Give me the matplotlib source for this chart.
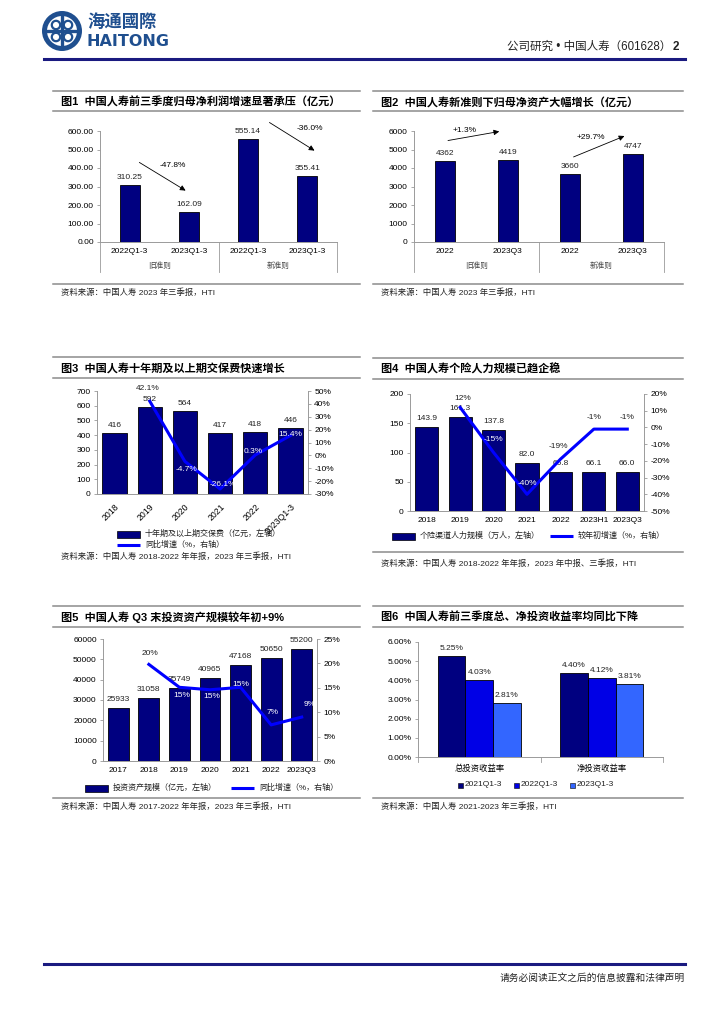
import matplotlib
matplotlib.use("Agg")
import matplotlib.pyplot as plt
import numpy as np
from matplotlib.patches import Rectangle, Circle
from matplotlib.ticker import FuncFormatter

plt.rcParams['font.family'] = ['Liberation Sans', 'Noto Sans CJK SC', 'DejaVu Sans']
plt.rcParams['axes.unicode_minus'] = False

W, H = 724, 1024
NAVY = '#000080'
BLUE = '#0000ff'
LINE_GRAY = '#8c8c8c'
SPINE = '#9a9a9a'
LOGO = '#1f4f8f'

# ---- data ----
f1_cats = ['2022Q1-3', '2023Q1-3', '2022Q1-3', '2023Q1-3']
f1_groups = ['旧准则', '新准则']
f1_vals = [310.25, 162.09, 555.14, 355.41]
f1_chg = ['-47.8%', '-36.0%']

f2_cats = ['2022', '2023Q3', '2022', '2023Q3']
f2_groups = ['旧准则', '新准则']
f2_vals = [4362, 4419, 3660, 4747]
f2_chg = ['+1.3%', '+29.7%']

f3_cats = ['2018', '2019', '2020', '2021', '2022', '2023Q1-3']
f3_prem = [416, 592, 564, 417, 418, 446]
f3_yoy = [np.nan, 42.1, -4.7, -26.1, 0.3, 15.4]

f4_cats = ['2018', '2019', '2020', '2021', '2022', '2023H1', '2023Q3']
f4_agents = [143.9, 161.3, 137.8, 82.0, 66.8, 66.1, 66.0]
f4_chg = [np.nan, 12, -15, -40, -19, -1, -1]

f5_cats = ['2017', '2018', '2019', '2020', '2021', '2022', '2023Q3']
f5_assets = [25933, 31058, 35749, 40965, 47168, 50650, 55200]
f5_yoy = [np.nan, 19.8, 15.1, 14.6, 15.1, 7.4, 9.0]

f6_groups = ['总投资收益率', '净投资收益率']
f6_series = ['2021Q1-3', '2022Q1-3', '2023Q1-3']
f6_2021 = [5.25, 4.40]
f6_2022 = [4.03, 4.12]
f6_2023 = [2.81, 3.81]
f6_colors = ['#000080', '#0000e6', '#3366ff']

fig = plt.figure(figsize=(7.24, 10.24), dpi=100)
bg = fig.add_axes([0, 0, 1, 1])
bg.set_xlim(0, W)
bg.set_ylim(H, 0)
bg.axis('off')


def px_rect(x0, y0, x1, y1):
    return [x0 / W, 1 - y1 / H, (x1 - x0) / W, (y1 - y0) / H]


def panel(x0, x1, top, title_y, under, bottom, source_y, title, source):
    bg.plot([x0, x1], [top, top], color=LINE_GRAY, lw=1.1)
    bg.plot([x0, x1], [under, under], color=LINE_GRAY, lw=1.1)
    if bottom is not None:
        bg.plot([x0, x1], [bottom, bottom], color=LINE_GRAY, lw=1.1)
    bg.text(x0 + 8, title_y, title, fontsize=8, fontweight='bold', va='center', ha='left')
    bg.text(x0 + 8, source_y, source, fontsize=6, va='center', ha='left', color='#222222')


def style(ax):
    for s in ['top', 'right']:
        ax.spines[s].set_visible(False)
    ax.spines['left'].set_color(SPINE)
    ax.spines['bottom'].set_color(SPINE)
    ax.spines['left'].set_linewidth(0.7)
    ax.spines['bottom'].set_linewidth(0.7)
    ax.tick_params(axis='y', labelsize=6, length=2.5, width=0.6, color=SPINE, pad=2)
    ax.tick_params(axis='x', labelsize=6, length=0, pad=4)
    ax.patch.set_alpha(0)


def style_right(ax2):
    for s in ['top', 'left', 'bottom']:
        ax2.spines[s].set_visible(False)
    ax2.spines['right'].set_color(SPINE)
    ax2.spines['right'].set_linewidth(0.7)
    ax2.tick_params(axis='y', labelsize=6, length=2.5, width=0.6, color=SPINE, pad=2)


def bar_labels(ax, xs, vals, fmt, dy=4):
    for x, v in zip(xs, vals):
        ax.annotate(fmt.format(v), (x, v), xytext=(0, dy), textcoords='offset pixels',
                    ha='center', va='bottom', fontsize=6, color='#222222')


def line_labels(ax, xs, vals, fmt, offsets, colors):
    for x, v, off, c in zip(xs, vals, offsets, colors):
        if np.isnan(v):
            continue
        ax.annotate(fmt.format(v), (x, v), xytext=off, textcoords='offset pixels',
                    ha='center', va='center', fontsize=6, color=c)


def legend_bar(x, y, text):
    bg.add_patch(Rectangle((x, y - 3.5), 23, 7, fc=NAVY, ec='black', lw=0.5))
    bg.text(x + 28, y, text, fontsize=5.8, va='center', ha='left', color='#222222')


def legend_line(x, y, text):
    bg.plot([x, x + 23], [y, y], color=BLUE, lw=2.2, solid_capstyle='butt')
    bg.text(x + 28, y, text, fontsize=5.8, va='center', ha='left', color='#222222')


# ---- header / footer ----
bg.add_patch(Circle((62, 31), 20, fc=LOGO, ec='none'))
bg.add_patch(Circle((62, 31), 15, fc='white', ec='none'))
bg.plot([62, 62], [17, 45], color=LOGO, lw=2.4)
bg.plot([48, 76], [31, 31], color=LOGO, lw=2.4)
for dx, dy in [(-6, -6), (6, -6), (-6, 6), (6, 6)]:
    bg.add_patch(Circle((62 + dx, 31 + dy), 4.2, fc='none', ec=LOGO, lw=1.6))
bg.text(87, 22, '海通國際', fontsize=12.5, fontweight='bold', color=LOGO, va='center', ha='left')
bg.text(86, 41, 'HAITONG', fontsize=11.5, fontweight='bold', color=LOGO, va='center', ha='left',
        family='DejaVu Sans')
bg.text(671, 47, '公司研究 • 中国人寿（601628）', fontsize=8.3, va='center', ha='right', color='#222222')
bg.text(673, 47, '2', fontsize=8.5, fontweight='bold', va='center', ha='left', color='#222222')
bg.plot([44, 685], [59, 59], color='#1a1a80', lw=2.2)
bg.plot([44, 685], [964, 964], color='#1a1a80', lw=2.2)
bg.text(685, 978, '请务必阅读正文之后的信息披露和法律声明', fontsize=7, va='center', ha='right', color='#222222')

# ---- panel frames ----
panel(53, 360, 91, 102, 111, 284, 293, '图1  中国人寿前三季度归母净利润增速显著承压（亿元）',
      '资料来源：中国人寿 2023 年三季报，HTI')
panel(373, 683, 91, 102, 111, 284, 293, '图2  中国人寿新准则下归母净资产大幅增长（亿元）',
      '资料来源：中国人寿 2023 年三季报，HTI')
panel(53, 360, 357, 368, 378, None, 557, '图3  中国人寿十年期及以上期交保费快速增长',
      '资料来源：中国人寿 2018-2022 年年报，2023 年三季报，HTI')
panel(373, 683, 358, 369, 379, 552, 564, '图4  中国人寿个险人力规模已趋企稳',
      '资料来源：中国人寿 2018-2022 年年报，2023 年中报、三季报，HTI')
panel(53, 360, 606, 617, 627, 798, 807, '图5  中国人寿 Q3 末投资资产规模较年初+9%',
      '资料来源：中国人寿 2017-2022 年年报，2023 年三季报，HTI')
panel(373, 683, 606, 617, 627, 798, 807, '图6  中国人寿前三季度总、净投资收益率均同比下降',
      '资料来源：中国人寿 2021-2023 年三季报，HTI')

arrow_kw = dict(arrowstyle='-|>', color='black', lw=0.6, mutation_scale=8)

# ---- Figure 1 ----
ax = fig.add_axes(px_rect(100, 131, 337, 242))
style(ax)
x = np.arange(len(f1_vals))
ax.bar(x, f1_vals, width=0.34, color=NAVY, edgecolor='black', linewidth=0.6)
ax.set_xlim(-0.5, 3.5)
ax.set_ylim(0, 600)
ax.set_yticks(np.arange(0, 601, 100))
ax.yaxis.set_major_formatter(FuncFormatter(lambda v, p: f'{v:.2f}'))
ax.set_xticks(x)
ax.set_xticklabels(f1_cats)
bar_labels(ax, x, f1_vals, '{:.2f}')
for sx in [-0.5, 1.5, 3.5]:
    ax.plot([sx, sx], [0, -0.27], transform=ax.get_xaxis_transform(), color=SPINE, lw=0.6, clip_on=False)
for i, g in enumerate(f1_groups):
    ax.text(2 * i + 0.5, -0.215, g, transform=ax.get_xaxis_transform(), ha='center', va='center',
            fontsize=5.5, color='#444444')
ax.annotate('', xy=(0.985, 270), xytext=(0.124, 438), arrowprops=arrow_kw, annotation_clip=False)
ax.annotate('', xy=(3.16, 486), xytext=(2.32, 654), arrowprops=arrow_kw, annotation_clip=False)
ax.text(0.73, 411, f1_chg[0], ha='center', va='center', fontsize=6)
ax.text(3.04, 611, f1_chg[1], ha='center', va='center', fontsize=6)

# ---- Figure 2 ----
ax = fig.add_axes(px_rect(414, 131, 664, 242))
style(ax)
x = np.arange(len(f2_vals))
ax.bar(x, f2_vals, width=0.32, color=NAVY, edgecolor='black', linewidth=0.6)
ax.set_xlim(-0.5, 3.5)
ax.set_ylim(0, 6000)
ax.set_yticks(np.arange(0, 6001, 1000))
ax.set_xticks(x)
ax.set_xticklabels(f2_cats)
bar_labels(ax, x, f2_vals, '{:d}')
for sx in [-0.5, 1.5, 3.5]:
    ax.plot([sx, sx], [0, -0.27], transform=ax.get_xaxis_transform(), color=SPINE, lw=0.6, clip_on=False)
for i, g in enumerate(f2_groups):
    ax.text(2 * i + 0.5, -0.215, g, transform=ax.get_xaxis_transform(), ha='center', va='center',
            fontsize=5.5, color='#444444')
ax.annotate('', xy=(0.908, 6000), xytext=(0.0, 5459), arrowprops=arrow_kw, annotation_clip=False)
ax.annotate('', xy=(2.908, 5784), xytext=(2.012, 4541), arrowprops=arrow_kw, annotation_clip=False)
ax.text(0.316, 6054, f2_chg[0], ha='center', va='center', fontsize=6)
ax.text(2.332, 5622, f2_chg[1], ha='center', va='center', fontsize=6)

# ---- Figure 3 ----
ax = fig.add_axes(px_rect(97, 391, 308, 494))
style(ax)
x = np.arange(len(f3_prem))
ax.bar(x, f3_prem, width=0.69, color=NAVY, edgecolor='black', linewidth=0.6)
ax.set_xlim(-0.5, len(x) - 0.5)
ax.set_ylim(0, 700)
ax.set_yticks(np.arange(0, 701, 100))
ax.set_xticks(x)
ax.set_xticklabels(f3_cats, rotation=45, ha='right', rotation_mode='anchor')
ax.tick_params(axis='x', pad=6, labelsize=6.3)
bar_labels(ax, x, f3_prem, '{:d}')
ax2 = ax.twinx()
style_right(ax2)
ax2.plot(x, f3_yoy, color=BLUE, lw=2.2)
ax2.set_ylim(-30, 50)
ax2.set_yticks(np.arange(-30, 51, 10))
ax2.yaxis.set_major_formatter(FuncFormatter(lambda v, p: f'{v:.0f}%'))
line_labels(ax2, x, f3_yoy, '{:.1f}%',
            [(0, 0), (-2, 13), (2, -8), (3, 4), (-2, 3), (0, 1)],
            ['k', '#222222', 'white', 'white', 'white', 'white'])
legend_bar(117, 534, '十年期及以上期交保费（亿元，左轴）')
legend_line(117, 545, '同比增速（%，右轴）')

# ---- Figure 4 ----
ax = fig.add_axes(px_rect(410, 394, 644, 511))
style(ax)
x = np.arange(len(f4_agents))
ax.bar(x, f4_agents, width=0.69, color=NAVY, edgecolor='black', linewidth=0.6)
ax.set_xlim(-0.5, len(x) - 0.5)
ax.set_ylim(0, 200)
ax.set_yticks(np.arange(0, 201, 50))
ax.set_xticks(x)
ax.set_xticklabels(f4_cats)
bar_labels(ax, x, f4_agents, '{:.1f}', dy=5)
ax2 = ax.twinx()
style_right(ax2)
ax2.plot(x, f4_chg, color=BLUE, lw=2.2)
ax2.set_ylim(-50, 20)
ax2.set_yticks(np.arange(-50, 21, 10))
ax2.yaxis.set_major_formatter(FuncFormatter(lambda v, p: f'{v:.0f}%'))
line_labels(ax2, x, f4_chg, '{:.0f}%',
            [(0, 0), (3, 9), (0, 13), (0, 11), (-2, 13), (0, 12), (0, 12)],
            ['k', '#222222', 'white', 'white', '#222222', '#222222', '#222222'])
legend_bar(392, 536, '个险渠道人力规模（万人，左轴）')
legend_line(550, 536, '较年初增速（%，右轴）')

# ---- Figure 5 ----
ax = fig.add_axes(px_rect(103, 639, 317, 761))
style(ax)
x = np.arange(len(f5_assets))
ax.bar(x, f5_assets, width=0.68, color=NAVY, edgecolor='black', linewidth=0.6)
ax.set_xlim(-0.5, len(x) - 0.5)
ax.set_ylim(0, 60000)
ax.set_yticks(np.arange(0, 60001, 10000))
ax.set_xticks(x)
ax.set_xticklabels(f5_cats)
bar_labels(ax, x, f5_assets, '{:d}', dy=5)
ax2 = ax.twinx()
style_right(ax2)
ax2.plot(x, f5_yoy, color=BLUE, lw=2.2)
ax2.set_ylim(0, 25)
ax2.set_yticks(np.arange(0, 26, 5))
ax2.yaxis.set_major_formatter(FuncFormatter(lambda v, p: f'{v:.0f}%'))
line_labels(ax2, x, f5_yoy, '{:.0f}%',
            [(0, 0), (1, 11), (2, -8), (2, -7), (0, 3), (1, 12), (8, 13)],
            ['k', '#222222', 'white', 'white', 'white', 'white', 'white'])
legend_bar(85, 788, '投资资产规模（亿元，左轴）')
legend_line(231, 788, '同比增速（%，右轴）')

# ---- Figure 6 ----
ax = fig.add_axes(px_rect(418, 642, 663, 757))
style(ax)
x = np.arange(len(f6_groups))
bw = 0.225
for k, (vals, c) in enumerate(zip([f6_2021, f6_2022, f6_2023], f6_colors)):
    xs = x + (k - 1) * bw
    ax.bar(xs, vals, width=bw, color=c, edgecolor='black', linewidth=0.6)
    bar_labels(ax, xs, vals, '{:.2f}%', dy=4)
ax.set_xlim(-0.5, 1.5)
ax.set_ylim(0, 6)
ax.set_yticks(np.arange(0, 6.01, 1))
ax.yaxis.set_major_formatter(FuncFormatter(lambda v, p: f'{v:.2f}%'))
ax.set_xticks(x)
ax.set_xticklabels(f6_groups)
ax.tick_params(axis='x', pad=5)
for sx in [-0.5, 0.5, 1.5]:
    ax.plot([sx, sx], [0, -0.04], transform=ax.get_xaxis_transform(), color=SPINE, lw=0.6, clip_on=False)
for lx, name, c in zip([460, 516, 572], f6_series, f6_colors):
    bg.add_patch(Rectangle((lx - 2.5, 782.5), 5, 5, fc=c, ec='black', lw=0.4))
    bg.text(lx + 5, 785, name, fontsize=6, va='center', ha='left', color='#222222')

fig.savefig('out.png', dpi=100)
